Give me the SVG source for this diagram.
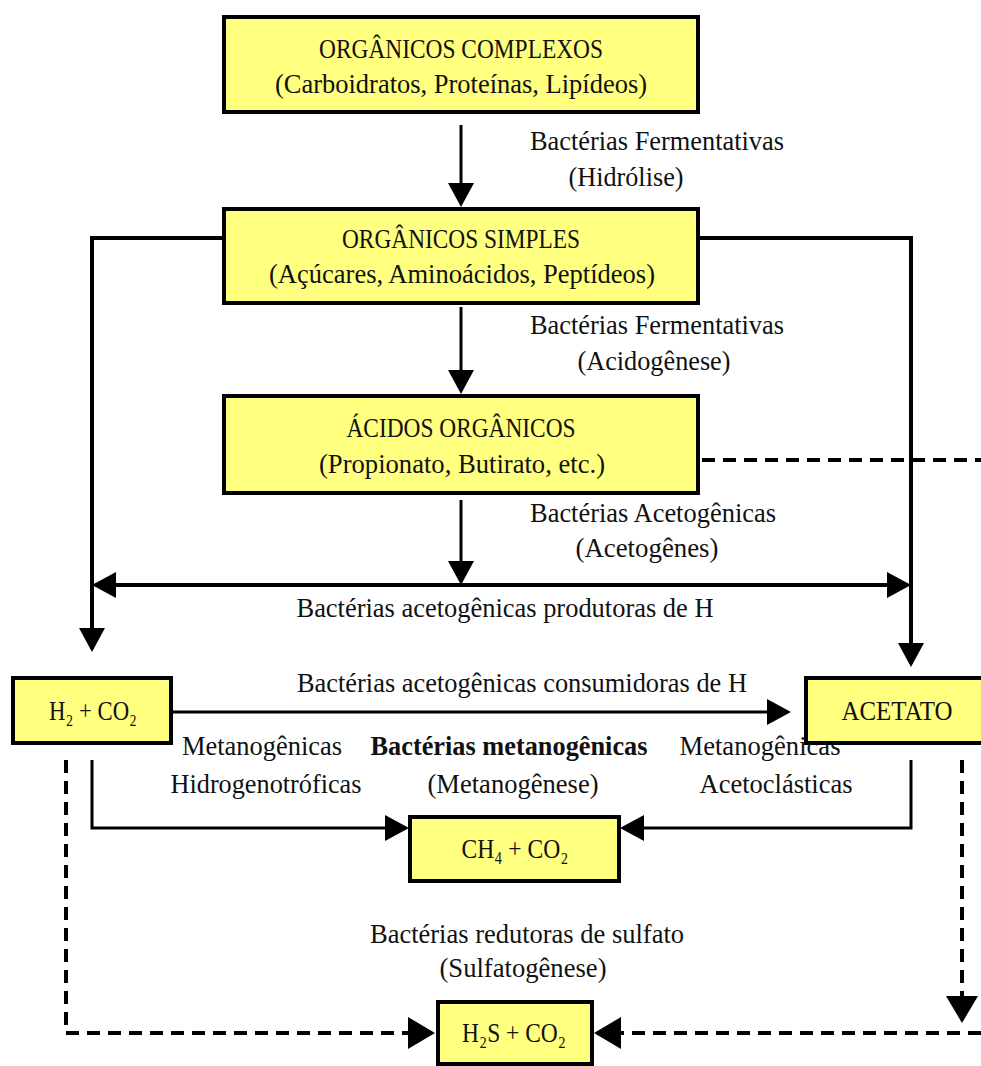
<svg xmlns="http://www.w3.org/2000/svg" width="981" height="1066" viewBox="0 0 981 1066">
<style>
.box{fill:#FFFF80;stroke:#000;stroke-width:4}
.t{font-family:"Liberation Serif","Times New Roman","DejaVu Serif",serif;font-size:28px;fill:#111;text-anchor:middle}
.b{font-weight:bold}
.c{fill:none;stroke:#000;stroke-width:3}
.thick{stroke-width:4}
.d{fill:none;stroke:#000;stroke-width:4;stroke-dasharray:13 8}
</style>
<defs>
<marker id="ah" markerUnits="userSpaceOnUse" markerWidth="24" markerHeight="26" refX="21" refY="13" orient="auto-start-reverse">
<path d="M0,0 L24,13 L0,26 Z" fill="#000"/>
</marker>
<marker id="ahl" markerUnits="userSpaceOnUse" markerWidth="27" markerHeight="32" refX="24" refY="16" orient="auto">
<path d="M0,0 L27,16 L0,32 Z" fill="#000"/>
</marker>
</defs>
<rect width="981" height="1066" fill="#fff"/>
<g id="connectors">
<line class="c" x1="461" y1="125" x2="461" y2="204" marker-end="url(#ah)"/>
<line class="c" x1="461" y1="307" x2="461" y2="391" marker-end="url(#ah)"/>
<line class="c" x1="461" y1="500" x2="461" y2="582" marker-end="url(#ah)"/>
<polyline class="c thick" points="222,238 92,238 92,649" marker-end="url(#ah)"/>
<polyline class="c thick" points="700,238 911,238 911,664" marker-end="url(#ah)"/>
<line class="c thick" x1="95" y1="585" x2="908" y2="585" marker-start="url(#ah)" marker-end="url(#ah)"/>
<line class="d" x1="702" y1="460" x2="981" y2="460"/>
<line class="c" x1="173" y1="712" x2="788" y2="712" marker-end="url(#ah)"/>
<polyline class="c" points="92,760 92,828 406,828" marker-end="url(#ah)"/>
<polyline class="c" points="911,760 911,828 623,828" marker-end="url(#ah)"/>
<polyline class="d" points="66,760 66,1033 432,1033" marker-end="url(#ahl)"/>
<line class="d" x1="962" y1="760" x2="962" y2="1020" marker-end="url(#ahl)"/>
<line class="d" x1="981" y1="1033" x2="597" y2="1033" marker-end="url(#ahl)"/>
</g>
<g id="organicos-complexos">
<rect class="box" x="224" y="17" width="474" height="95"/>
<text class="t" x="461" y="58" textLength="284" lengthAdjust="spacingAndGlyphs">ORGÂNICOS COMPLEXOS</text>
<text class="t" x="461" y="93" textLength="372" lengthAdjust="spacingAndGlyphs">(Carboidratos, Proteínas, Lipídeos)</text>
</g>
<g id="organicos-simples">
<rect class="box" x="224" y="209" width="474" height="94"/>
<text class="t" x="461" y="248" textLength="238" lengthAdjust="spacingAndGlyphs">ORGÂNICOS SIMPLES</text>
<text class="t" x="462" y="283" textLength="386" lengthAdjust="spacingAndGlyphs">(Açúcares, Aminoácidos, Peptídeos)</text>
</g>
<g id="acidos-organicos">
<rect class="box" x="224" y="396" width="474" height="97"/>
<text class="t" x="461" y="437" textLength="229" lengthAdjust="spacingAndGlyphs">ÁCIDOS ORGÂNICOS</text>
<text class="t" x="462" y="473" textLength="286" lengthAdjust="spacingAndGlyphs">(Propionato, Butirato, etc.)</text>
</g>
<g id="h2-co2">
<rect class="box" x="13" y="678" width="158" height="65"/>
<text class="t" x="93" y="720" textLength="88" lengthAdjust="spacingAndGlyphs">H₂ + CO₂</text>
</g>
<g id="acetato">
<rect class="box" x="806" y="678" width="190" height="65"/>
<text class="t" x="897" y="720" textLength="111" lengthAdjust="spacingAndGlyphs">ACETATO</text>
</g>
<g id="ch4-co2">
<rect class="box" x="410" y="817" width="209" height="64"/>
<text class="t" x="515" y="858" textLength="107" lengthAdjust="spacingAndGlyphs">CH₄ + CO₂</text>
</g>
<g id="h2s-co2">
<rect class="box" x="438" y="1002" width="154" height="62"/>
<text class="t" x="514" y="1042" textLength="104" lengthAdjust="spacingAndGlyphs">H₂S + CO₂</text>
</g>
<g id="labels">
<text class="t" x="657" y="150" textLength="254" lengthAdjust="spacingAndGlyphs">Bactérias Fermentativas</text>
<text class="t" x="626" y="186" textLength="115" lengthAdjust="spacingAndGlyphs">(Hidrólise)</text>
<text class="t" x="657" y="334" textLength="254" lengthAdjust="spacingAndGlyphs">Bactérias Fermentativas</text>
<text class="t" x="654" y="370" textLength="153" lengthAdjust="spacingAndGlyphs">(Acidogênese)</text>
<text class="t" x="653" y="522" textLength="246" lengthAdjust="spacingAndGlyphs">Bactérias Acetogênicas</text>
<text class="t" x="647" y="557" textLength="143" lengthAdjust="spacingAndGlyphs">(Acetogênes)</text>
<text class="t" x="505" y="617" textLength="417" lengthAdjust="spacingAndGlyphs">Bactérias acetogênicas produtoras de H</text>
<text class="t" x="522" y="692" textLength="450" lengthAdjust="spacingAndGlyphs">Bactérias acetogênicas consumidoras de H</text>
<text class="t" x="262" y="755" textLength="160" lengthAdjust="spacingAndGlyphs">Metanogênicas</text>
<text class="t" x="266" y="793" textLength="191" lengthAdjust="spacingAndGlyphs">Hidrogenotróficas</text>
<text class="t b" x="509" y="755" textLength="277" lengthAdjust="spacingAndGlyphs">Bactérias metanogênicas</text>
<text class="t" x="513" y="793" textLength="171" lengthAdjust="spacingAndGlyphs">(Metanogênese)</text>
<text class="t" x="760" y="755" textLength="161" lengthAdjust="spacingAndGlyphs">Metanogênicas</text>
<text class="t" x="776" y="793" textLength="153" lengthAdjust="spacingAndGlyphs">Acetoclásticas</text>
<text class="t" x="527" y="943" textLength="314" lengthAdjust="spacingAndGlyphs">Bactérias redutoras de sulfato</text>
<text class="t" x="523" y="977" textLength="167" lengthAdjust="spacingAndGlyphs">(Sulfatogênese)</text>
</g>
</svg>
